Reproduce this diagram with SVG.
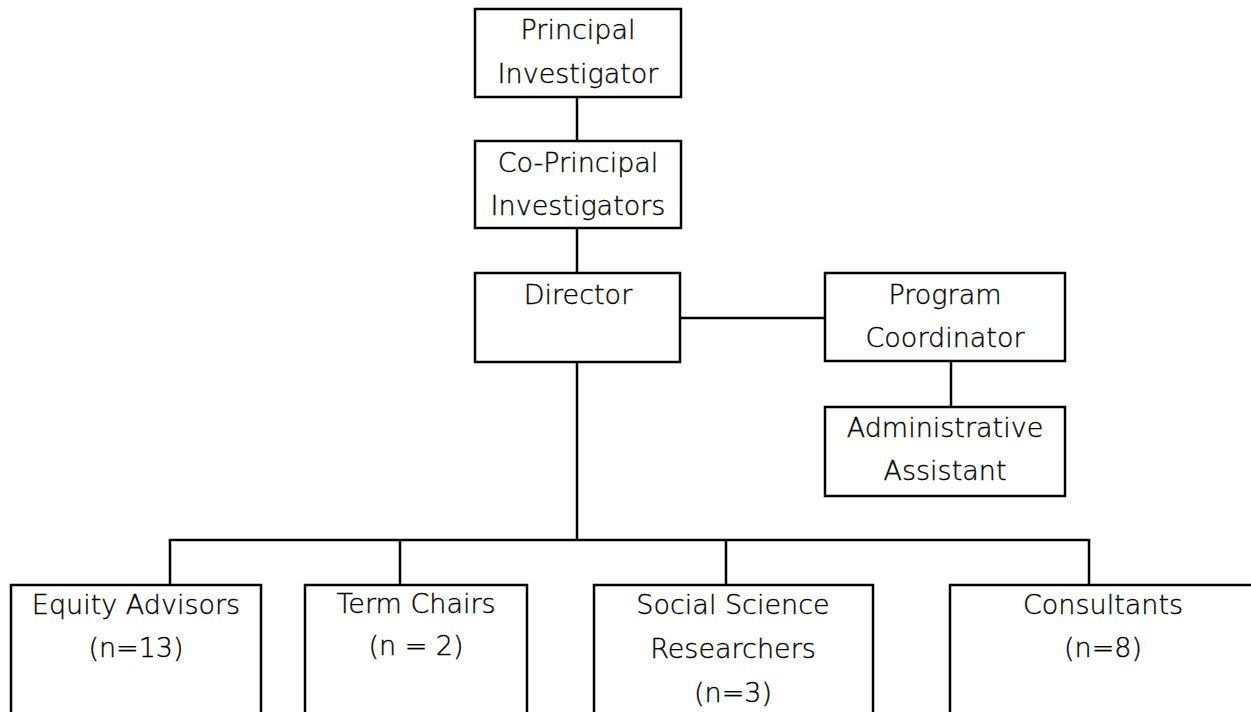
<svg xmlns="http://www.w3.org/2000/svg" width="1251" height="712" viewBox="0 0 1251 712">
<style>
rect{fill:#fff;stroke:#000;stroke-width:2.5}
.c line{stroke:#000;stroke-width:2.5}
text{font-family:"DejaVu Sans","Liberation Sans",sans-serif;font-weight:200;font-size:27px;fill:#000;stroke:#000;stroke-width:0.35;text-anchor:middle}
</style>
<rect x="0" y="0" width="1251" height="712" style="stroke:none"/>
<g class="c" id="connectors">
<line x1="577" y1="97" x2="577" y2="141"/>
<line x1="577" y1="228" x2="577" y2="273"/>
<line x1="680" y1="318" x2="825" y2="318"/>
<line x1="951" y1="361" x2="951" y2="407"/>
<line x1="577" y1="362" x2="577" y2="540"/>
<line x1="168.75" y1="540" x2="1090.25" y2="540"/>
<line x1="170" y1="540" x2="170" y2="585"/>
<line x1="400" y1="540" x2="400" y2="585"/>
<line x1="726" y1="540" x2="726" y2="585"/>
<line x1="1089" y1="540" x2="1089" y2="585"/>
</g>
<g id="pi"><rect x="475" y="9" width="206" height="88"/><text x="578" y="39">Principal</text><text x="578" y="83">Investigator</text></g>
<g id="copi"><rect x="475" y="141" width="206" height="87"/><text x="578" y="172">Co-Principal</text><text x="578" y="215">Investigators</text></g>
<g id="director"><rect x="475" y="273" width="205" height="89"/><text x="578" y="304">Director</text></g>
<g id="pc"><rect x="825" y="273" width="240" height="88"/><text x="945" y="304">Program</text><text x="945" y="347">Coordinator</text></g>
<g id="aa"><rect x="825" y="407" width="240" height="89"/><text x="945" y="437">Administrative</text><text x="945" y="480">Assistant</text></g>
<g id="equity"><rect x="11" y="585" width="250" height="150"/><text x="136" y="614">Equity Advisors</text><text x="136" y="657">(n=13)</text></g>
<g id="term"><rect x="305" y="585" width="222" height="150"/><text x="416" y="613">Term Chairs</text><text x="416" y="655">(n = 2)</text></g>
<g id="social"><rect x="594" y="585" width="279" height="150"/><text x="733" y="614">Social Science</text><text x="733" y="658">Researchers</text><text x="733" y="702">(n=3)</text></g>
<g id="consultants"><rect x="950" y="585" width="320" height="150"/><text x="1103" y="614">Consultants</text><text x="1103" y="657">(n=8)</text></g>
</svg>
